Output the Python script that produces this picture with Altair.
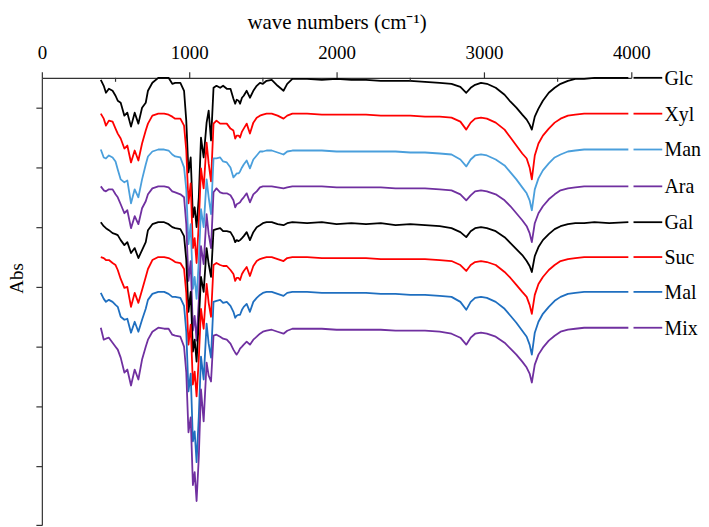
import altair as alt
import pandas as pd

# shared wavenumber grid (cm^-1)
wavenumbers = [400, 420, 435, 455, 480, 500, 515, 535, 560, 580,
               605, 630, 655, 680, 705, 720, 750, 790, 830, 860,
               885, 905, 940, 965, 980, 995, 1010, 1025, 1037, 1050,
               1065, 1080, 1098, 1118, 1132, 1148, 1165, 1185, 1210, 1230,
               1255, 1280, 1300, 1312, 1322, 1335, 1345, 1358, 1370, 1390,
               1412, 1435, 1458, 1480, 1500, 1525, 1560, 1600, 1640, 1665,
               1700, 1800, 1900, 2000, 2100, 2200, 2300, 2400, 2500, 2600,
               2700, 2780, 2840, 2880, 2910, 2940, 2980, 3020, 3080, 3140,
               3180, 3220, 3260, 3290, 3310, 3325, 3345, 3370, 3400, 3440,
               3480, 3520, 3570, 3620, 3680, 3750, 3850, 3980]

# band depth below each trace's own baseline
glc = [2, 8, 15, 11, 13, 18, 23, 25, 38, 35,
       49, 35, 46, 30, 25, 13, 5, 0, 0, 0,
       6, 5, 5, 13, 43, 95, 80, 140, 130, 150,
       120, 60, 80, 45, 33, 63, 10, 8, 10, 8,
       11, 11, 21, 26, 22, 23, 26, 20, 18, 13,
       20, 13, 8, 5, 6, 3, 2, 8, 13, 6,
       1, 1, 2, 1, 2, 2, 3, 3, 3, 4,
       5, 6, 9, 15, 10, 7, 5, 6, 10, 17,
       24, 30, 37, 42, 47, 52, 39, 31, 23, 15,
       10, 6, 3, 1, 1, 0, 0, 0]
xyl = [0, 5, 12, 7, 8, 15, 20, 25, 35, 32,
       49, 37, 47, 30, 17, 10, 2, 0, 0, 1,
       3, 5, 5, 12, 37, 90, 70, 135, 125, 150,
       110, 55, 75, 29, 50, 68, 10, 7, 10, 10,
       10, 15, 17, 25, 22, 22, 24, 18, 15, 10,
       20, 9, 4, 2, 1, 0, 0, 2, 5, 2,
       0, 0, 1, 1, 1, 1, 2, 2, 2, 3,
       3, 4, 8, 16, 9, 5, 4, 5, 9, 16,
       24, 32, 40, 45, 54, 66, 42, 30, 22, 15,
       9, 5, 2, 1, 0, 0, 0, 0]
man = [0, 8, 9, 6, 8, 12, 20, 30, 33, 31,
       54, 40, 48, 30, 15, 7, 2, 0, 0, 1,
       5, 7, 8, 18, 40, 95, 75, 140, 128, 150,
       112, 60, 78, 30, 48, 65, 9, 9, 8, 12,
       13, 18, 28, 26, 24, 24, 22, 18, 15, 11,
       19, 10, 6, 2, 2, 1, 1, 3, 5, 2,
       1, 1, 1, 2, 2, 2, 2, 2, 3, 3,
       4, 5, 10, 17, 10, 6, 5, 6, 10, 16,
       23, 30, 38, 44, 51, 61, 40, 29, 21, 14,
       8, 5, 2, 1, 0, 0, 0, 0]
ara = [0, 4, 5, 3, 3, 8, 11, 18, 27, 24,
       42, 30, 38, 22, 15, 8, 2, 0, 0, 1,
       5, 6, 8, 11, 38, 95, 75, 145, 130, 155,
       115, 60, 78, 28, 48, 62, 6, 2, 6, 7,
       7, 9, 14, 21, 18, 17, 16, 13, 11, 7,
       16, 8, 5, 1, 0, 0, 0, 1, 2, 1,
       0, 0, 0, 1, 1, 1, 1, 2, 2, 2,
       3, 4, 8, 14, 9, 5, 4, 5, 8, 14,
       20, 27, 34, 40, 47, 56, 37, 27, 20, 13,
       8, 4, 2, 1, 0, 0, 0, 0]
gal = [0, 4, 6, 8, 11, 12, 13, 18, 23, 20,
       31, 26, 36, 28, 20, 8, 2, 0, 0, 2,
       5, 6, 7, 14, 38, 90, 70, 130, 118, 140,
       100, 55, 70, 26, 42, 55, 8, 7, 6, 9,
       9, 10, 15, 20, 18, 19, 18, 16, 14, 10,
       18, 10, 5, 3, 1, 0, 0, 2, 3, 1,
       0, 1, 0, 2, 1, 2, 1, 3, 2, 3,
       4, 6, 10, 15, 9, 6, 5, 6, 9, 15,
       21, 27, 33, 39, 44, 50, 34, 25, 18, 12,
       7, 4, 2, 1, 1, 0, 1, 0]
suc = [0, 1, 3, 3, 6, 8, 13, 22, 31, 30,
       50, 36, 46, 33, 20, 12, 3, 0, 0, 1,
       3, 5, 6, 12, 36, 88, 68, 128, 115, 140,
       102, 52, 72, 27, 46, 60, 8, 6, 8, 9,
       9, 13, 17, 24, 21, 21, 23, 17, 14, 10,
       19, 9, 4, 2, 1, 0, 0, 2, 4, 1,
       0, 0, 1, 1, 1, 1, 2, 2, 2, 2,
       3, 4, 8, 14, 8, 5, 4, 5, 8, 15,
       21, 28, 35, 40, 48, 57, 38, 27, 20, 13,
       8, 4, 2, 1, 0, 0, 0, 0]
mal = [1, 7, 10, 8, 10, 13, 15, 25, 28, 27,
       41, 30, 40, 28, 17, 8, 2, 0, 0, 2,
       5, 5, 6, 14, 40, 100, 82, 150, 140, 171,
       125, 65, 88, 32, 52, 66, 10, 9, 8, 11,
       10, 14, 20, 26, 24, 23, 23, 18, 15, 12,
       20, 10, 6, 3, 1, 0, 0, 2, 4, 1,
       0, 0, 1, 1, 1, 1, 2, 2, 3, 3,
       4, 5, 10, 18, 10, 6, 5, 6, 10, 17,
       24, 31, 39, 45, 53, 63, 41, 30, 22, 15,
       9, 5, 2, 1, 0, 0, 0, 0]
mix = [0, 12, 11, 10, 15, 19, 22, 30, 45, 42,
       58, 42, 52, 32, 19, 12, 4, 0, 1, 1,
       7, 8, 9, 19, 45, 105, 90, 158, 145, 174,
       130, 62, 94, 35, 48, 54, 8, 7, 9, 11,
       12, 16, 22, 25, 27, 24, 21, 19, 17, 14,
       17, 12, 9, 6, 4, 3, 2, 4, 6, 3,
       1, 1, 1, 2, 2, 2, 2, 3, 3, 3,
       4, 6, 10, 17, 10, 6, 5, 6, 9, 15,
       21, 27, 34, 40, 46, 55, 37, 27, 20, 13,
       8, 4, 2, 1, 0, 0, 0, 0]

names = ["Glc", "Xyl", "Man", "Ara", "Gal", "Suc", "Mal", "Mix"]
offsets = [0, 36, 72, 109, 145, 180, 215, 251]
colors = ["#000000", "#ff0000", "#4a9fdc", "#7030a0",
          "#000000", "#ff0000", "#1f6fc0", "#7030a0"]
line_widths = [1.8, 1.8, 1.0, 1.8, 1.8, 1.8, 1.8, 1.8]
x_ticks = [0, 1000, 2000, 3000, 4000]
minor_ticks = [500, 1500, 2500, 3500]
y_ticks = [30, 90, 150, 210, 270, 330, 390, 449]

series = [glc, xyl, man, ara, gal, suc, mal, mix]
rows = []
for name, off, vals in zip(names, offsets, series):
    assert len(vals) == len(wavenumbers), name
    for wn, d in zip(wavenumbers, vals):
        rows.append({"series": name, "wn": wn, "y": off + d})
df = pd.DataFrame(rows)
labels_df = pd.DataFrame({"series": names, "y": offsets})
minor_df = pd.DataFrame({"wn": minor_ticks})

SERIF = "Liberation Serif"
AX = "#333333"

xscale = alt.Scale(domain=[0, 4000], nice=False, zero=False)
yscale = alt.Scale(domain=[0, 449], reverse=True, nice=False, zero=False)
cscale = alt.Scale(domain=names, range=colors)
wscale = alt.Scale(domain=names, range=line_widths)

lines = alt.Chart(df).mark_line(strokeJoin="round").encode(
    x=alt.X("wn:Q", scale=xscale, axis=alt.Axis(
        orient="top", values=x_ticks, format="d", title="wave numbers (cm\u207b\u00b9)",
        labelFont=SERIF, labelFontSize=19, labelColor="black", labelPadding=9,
        labelFlush=False, tickSize=6, tickColor=AX, tickWidth=1.2,
        domainColor=AX, domainWidth=1.2, grid=False,
        titleFont=SERIF, titleFontSize=21, titleFontWeight="normal", titleColor="black",
        titleY=-50, titleBaseline="alphabetic")),
    y=alt.Y("y:Q", scale=yscale, axis=alt.Axis(
        values=y_ticks, labels=False, tickSize=6, tickColor=AX, tickWidth=1.2,
        domainColor=AX, domainWidth=1.2, grid=False,
        title="Abs", titleFont=SERIF, titleFontSize=19, titleFontWeight="normal",
        titleColor="black", titleX=-19, titleY=201, titleAngle=270,
        titleBaseline="alphabetic")),
    color=alt.Color("series:N", scale=cscale, legend=None),
    strokeWidth=alt.StrokeWidth("series:N", scale=wscale, legend=None),
    order="wn:Q",
)

minor = alt.Chart(minor_df).mark_rule(color=AX, strokeWidth=1.2).encode(
    x=alt.X("wn:Q", scale=xscale),
    y=alt.datum(0), y2=alt.datum(4),
)

segs = alt.Chart(labels_df).mark_rule().encode(
    x=alt.datum(4015), x2=alt.datum(4210),
    y=alt.Y("y:Q", scale=yscale),
    color=alt.Color("series:N", scale=cscale, legend=None),
    strokeWidth=alt.StrokeWidth("series:N", scale=wscale, legend=None),
)

texts = alt.Chart(labels_df).mark_text(
    align="left", baseline="middle", font=SERIF, fontSize=20, color="black", dy=1
).encode(
    x=alt.datum(4225),
    y=alt.Y("y:Q", scale=yscale),
    text="series:N",
)

chart = alt.layer(lines, minor, segs, texts).properties(
    width=592, height=449,
    background="white",
    autosize=alt.AutoSizeParams(type="none"),
    padding={"left": 34, "top": 69, "right": 70, "bottom": 2},
).configure_view(strokeWidth=0)

chart.save("out.html", embed_options={"renderer": "svg", "actions": False})
